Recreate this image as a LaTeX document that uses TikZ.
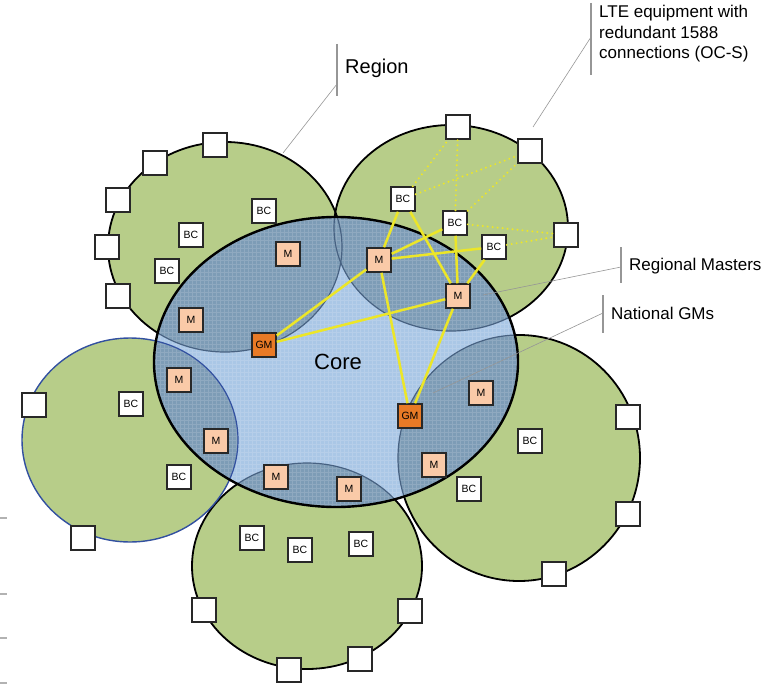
\documentclass[tikz,border=0pt]{standalone}
\usepackage{fontspec}
\setmainfont{Liberation Sans}
\definecolor{regiongreen}{RGB}{183,205,137}
\definecolor{coreblue}{RGB}{170,199,230}
\definecolor{overlapblue}{RGB}{125,156,182}
\definecolor{innerline}{RGB}{72,98,130}
\definecolor{leftblue}{RGB}{50,80,160}
\definecolor{mpeach}{RGB}{250,202,168}
\definecolor{gmorange}{RGB}{232,122,38}
\definecolor{linkyellow}{RGB}{236,230,40}
\definecolor{boxline}{RGB}{40,40,40}
\definecolor{calloutgray}{RGB}{150,150,150}
\begin{document}
\begin{tikzpicture}[x=1pt,y=-1pt,
  every node/.style={inner sep=0pt},
  lte/.style={draw=boxline,fill=white,line width=1.5pt,minimum size=24pt},
  bcbox/.style={lte,font=\fontsize{10.5}{10.5}\selectfont},
  mbox/.style={bcbox,fill=mpeach},
  gmbox/.style={bcbox,fill=gmorange},
  link/.style={draw=linkyellow,line width=2.5pt},
  ltelink/.style={draw=linkyellow,line width=2.2pt,line cap=round,dash pattern=on 0pt off 5pt},
  leader/.style={draw=calloutgray,line width=0.6pt},
  tickbar/.style={draw=calloutgray,line width=1.3pt},
  callout/.style={font=\fontsize{17}{20.5}\selectfont,anchor=west,align=left},
  edgemark/.style={draw=gray!60,line width=1.5pt}]
\useasboundingbox (0,0) rectangle (768,685);

% regions (green)
\foreach \cx/\cy/\rx/\ry in {225/247/117/105, 451/228/117/103, 130/440/108/102, 307/566/115/103, 519/458/121/123}
  \fill[regiongreen] (\cx,\cy) ellipse [x radius=\rx pt, y radius=\ry pt];
\foreach \cx/\cy/\rx/\ry in {225/247/117/105, 451/228/117/103, 307/566/115/103, 519/458/121/123}
  \draw[black,line width=1.8pt] (\cx,\cy) ellipse [x radius=\rx pt, y radius=\ry pt];
\draw[leftblue,line width=1.4pt] (130,440) ellipse [x radius=108pt, y radius=102pt];

% core network
\begin{scope}
  \clip (336,362) ellipse [x radius=182pt, y radius=145pt];
  \fill[coreblue] (150,210) rectangle (525,512);
  \foreach \cx/\cy/\rx/\ry in {225/247/117/105, 451/228/117/103, 130/440/108/102, 307/566/115/103, 519/458/121/123}
    \fill[overlapblue] (\cx,\cy) ellipse [x radius=\rx pt, y radius=\ry pt];
  \draw[white,opacity=0.14,line width=0.35pt,step=4pt] (150,210) grid (525,512);
  \foreach \cx/\cy/\rx/\ry in {225/247/117/105, 451/228/117/103, 307/566/115/103, 519/458/121/123}
    \draw[innerline,line width=1.2pt] (\cx,\cy) ellipse [x radius=\rx pt, y radius=\ry pt];
  \draw[leftblue,line width=1.2pt] (130,440) ellipse [x radius=108pt, y radius=102pt];
\end{scope}
\draw[black,line width=2.4pt] (336,362) ellipse [x radius=182pt, y radius=145pt];
\node[font=\fontsize{22}{22}\selectfont] (core) at (338,362) {Core};

% top-left region
\node[lte] (tlq1) at (155,163) {};
\node[lte] (tlq2) at (215,145) {};
\node[lte] (tlq3) at (118,200) {};
\node[lte] (tlq4) at (107,247) {};
\node[lte] (tlq5) at (118,296) {};
\node[bcbox] (tlbc1) at (264,211) {BC};
\node[bcbox] (tlbc2) at (191,235) {BC};
\node[bcbox] (tlbc3) at (167,271) {BC};
\node[mbox] (tlm1) at (288,254) {M};
\node[mbox] (tlm2) at (191,320) {M};
\node[gmbox] (gmw) at (264,345) {GM};

% top-right region
\node[lte] (trq1) at (458,127) {};
\node[lte] (trq2) at (530,151) {};
\node[lte] (trq3) at (566,235) {};
\node[bcbox] (trbc1) at (403,199) {BC};
\node[bcbox] (trbc2) at (455,223) {BC};
\node[bcbox] (trbc3) at (494,247) {BC};
\node[mbox] (trm1) at (379,260) {M};
\node[mbox] (trm2) at (458,296) {M};

% right region
\node[gmbox] (gme) at (410,416) {GM};
\node[mbox] (rm1) at (481,393) {M};
\node[mbox] (rm2) at (434,465) {M};
\node[bcbox] (rbc1) at (530,441) {BC};
\node[bcbox] (rbc2) at (469,489) {BC};
\node[lte] (rq1) at (628,417) {};
\node[lte] (rq2) at (628,514) {};
\node[lte] (rq3) at (554,574) {};

% bottom region
\node[mbox] (bm1) at (276,477) {M};
\node[mbox] (bm2) at (349,489) {M};
\node[bcbox] (bbc1) at (252,538) {BC};
\node[bcbox] (bbc2) at (300,550) {BC};
\node[bcbox] (bbc3) at (361,544) {BC};
\node[lte] (bq1) at (204,610) {};
\node[lte] (bq2) at (410,611) {};
\node[lte] (bq3) at (360,659) {};
\node[lte] (bq4) at (289,670) {};

% left region
\node[mbox] (lm1) at (179,380) {M};
\node[mbox] (lm2) at (216,441) {M};
\node[bcbox] (lbc1) at (131,404) {BC};
\node[bcbox] (lbc2) at (179,477) {BC};
\node[lte] (lq1) at (34,405) {};
\node[lte] (lq2) at (83,538) {};

% redundant 1588 connections to the LTE equipment
\draw[ltelink] (trbc1) -- (trq1);
\draw[ltelink] (trbc1) -- (trq2);
\draw[ltelink] (trbc2) -- (trq1);
\draw[ltelink] (trbc2) -- (trq2);
\draw[ltelink] (trbc2) -- (trq3);
\draw[ltelink] (trbc3) -- (trq3);

% timing links
\draw[link] (gmw) -- (trm1);
\draw[link] (gmw) -- (trm2);
\draw[link] (gme) -- (trm1);
\draw[link] (gme) -- (trm2);
\foreach \m in {trm1,trm2}
  \foreach \b in {trbc1,trbc2,trbc3}
    \draw[link] (\m) -- (\b);

% callouts
\coordinate (regbartop) at (337,44);
\coordinate (regbarbot) at (337,96);
\coordinate (regfoot) at (337,84);
\coordinate (regtip) at (283,153);
\draw[tickbar] (regbartop) -- (regbarbot);
\draw[leader] (regfoot) -- (regtip);
\node[font=\fontsize{20}{20}\selectfont,anchor=west] (regionlabel) at (345,68) {Region};

\coordinate (ltebartop) at (591,3);
\coordinate (ltebarbot) at (591,75);
\coordinate (ltefoot) at (591,37);
\coordinate (ltetip) at (533,127);
\draw[tickbar] (ltebartop) -- (ltebarbot);
\draw[leader] (ltefoot) -- (ltetip);
\node[callout,anchor=north west] (ltelabel) at (599,5) {LTE equipment with\\redundant 1588\\connections (OC-S)};

\coordinate (rmbartop) at (621,247);
\coordinate (rmbarbot) at (621,283);
\coordinate (rmfoot) at (621,267);
\coordinate (rmtip) at (483,295);
\draw[tickbar] (rmbartop) -- (rmbarbot);
\draw[leader] (rmfoot) -- (rmtip);
\node[callout] (rmlabel) at (629,266) {Regional Masters};

\coordinate (gmbartop) at (603,295);
\coordinate (gmbarbot) at (603,333);
\coordinate (gmfoot) at (603,313);
\coordinate (gmtip) at (433,393);
\draw[tickbar] (gmbartop) -- (gmbarbot);
\draw[leader] (gmfoot) -- (gmtip);
\node[callout] (gmlabel) at (611,313) {National GMs};

% short marks on the left edge
\foreach \y in {518,594,638,683}
  \draw[edgemark] (0,\y) -- (7,\y);
\end{tikzpicture}
\end{document}
